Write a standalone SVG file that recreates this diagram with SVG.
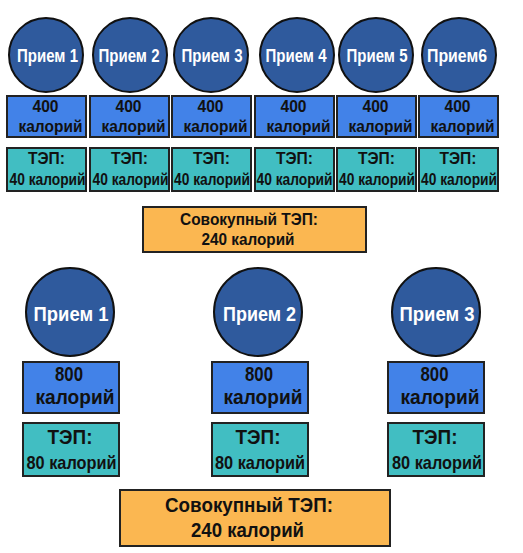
<svg xmlns="http://www.w3.org/2000/svg" width="523" height="553" viewBox="0 0 523 553">
<style>
  text { font-family: "Liberation Sans Narrow", "Liberation Sans", Arial, sans-serif; font-weight: bold; text-anchor: middle; }
  .meal { fill: #2F5A9D; stroke: #111; stroke-width: 2; }
  .kcal { fill: #4282E8; stroke: #222; stroke-width: 2; }
  .tef { fill: #41BEC2; stroke: #222; stroke-width: 2; }
  .total { fill: #FBB751; stroke: #222; stroke-width: 2; }
  .w { fill: #fff; }
  .k { fill: #111; }
  .s16 { font-size: 16px; }
  .s17 { font-size: 17px; }
  .s19 { font-size: 19px; }
  .s20 { font-size: 20px; }
  .s21 { font-size: 21px; }
</style>
<rect width="523" height="553" fill="#fff"/>
<g id="connectors"/>

<!-- Top scenario: 6 meals -->
<g id="top-meal-1"><circle class="meal" cx="46" cy="55" r="37"/><text class="w s19" x="47.5" y="62" textLength="61" lengthAdjust="spacingAndGlyphs">Прием 1</text></g>
<g id="top-meal-2"><circle class="meal" cx="130" cy="55" r="37"/><text class="w s19" x="129" y="62" textLength="61" lengthAdjust="spacingAndGlyphs">Прием 2</text></g>
<g id="top-meal-3"><circle class="meal" cx="211" cy="55" r="37"/><text class="w s19" x="212" y="62" textLength="61" lengthAdjust="spacingAndGlyphs">Прием 3</text></g>
<g id="top-meal-4"><circle class="meal" cx="297" cy="55" r="37"/><text class="w s19" x="296" y="62" textLength="61" lengthAdjust="spacingAndGlyphs">Прием 4</text></g>
<g id="top-meal-5"><circle class="meal" cx="376" cy="55" r="37"/><text class="w s19" x="377" y="62" textLength="61" lengthAdjust="spacingAndGlyphs">Прием 5</text></g>
<g id="top-meal-6"><circle class="meal" cx="459" cy="55" r="37"/><text class="w s19" x="457" y="62" textLength="60" lengthAdjust="spacingAndGlyphs">Прием6</text></g>

<g id="top-kcal-1"><rect class="kcal" x="7" y="96" width="79" height="41"/><text class="k s17" x="45.5" y="112" textLength="26" lengthAdjust="spacingAndGlyphs">400</text><text class="k s17" x="50.5" y="132" textLength="64" lengthAdjust="spacingAndGlyphs">калорий</text></g>
<g id="top-kcal-2"><rect class="kcal" x="90" y="96" width="79" height="41"/><text class="k s17" x="128.5" y="112" textLength="26" lengthAdjust="spacingAndGlyphs">400</text><text class="k s17" x="133.5" y="132" textLength="64" lengthAdjust="spacingAndGlyphs">калорий</text></g>
<g id="top-kcal-3"><rect class="kcal" x="172" y="96" width="79" height="41"/><text class="k s17" x="210.5" y="112" textLength="26" lengthAdjust="spacingAndGlyphs">400</text><text class="k s17" x="215.5" y="132" textLength="64" lengthAdjust="spacingAndGlyphs">калорий</text></g>
<g id="top-kcal-4"><rect class="kcal" x="255" y="96" width="79" height="41"/><text class="k s17" x="293.5" y="112" textLength="26" lengthAdjust="spacingAndGlyphs">400</text><text class="k s17" x="298.5" y="132" textLength="64" lengthAdjust="spacingAndGlyphs">калорий</text></g>
<g id="top-kcal-5"><rect class="kcal" x="337" y="96" width="79" height="41"/><text class="k s17" x="375.5" y="112" textLength="26" lengthAdjust="spacingAndGlyphs">400</text><text class="k s17" x="380.5" y="132" textLength="64" lengthAdjust="spacingAndGlyphs">калорий</text></g>
<g id="top-kcal-6"><rect class="kcal" x="419" y="96" width="79" height="41"/><text class="k s17" x="457.5" y="112" textLength="26" lengthAdjust="spacingAndGlyphs">400</text><text class="k s17" x="462.5" y="132" textLength="64" lengthAdjust="spacingAndGlyphs">калорий</text></g>

<g id="top-tef-1"><rect class="tef" x="7" y="148" width="79" height="43"/><text class="k s17" x="46.5" y="164" textLength="37" lengthAdjust="spacingAndGlyphs">ТЭП:</text><text class="k s16" x="47.5" y="185" textLength="76" lengthAdjust="spacingAndGlyphs">40 калорий</text></g>
<g id="top-tef-2"><rect class="tef" x="90" y="148" width="79" height="43"/><text class="k s17" x="129.5" y="164" textLength="37" lengthAdjust="spacingAndGlyphs">ТЭП:</text><text class="k s16" x="130.5" y="185" textLength="76" lengthAdjust="spacingAndGlyphs">40 калорий</text></g>
<g id="top-tef-3"><rect class="tef" x="172" y="148" width="79" height="43"/><text class="k s17" x="211.5" y="164" textLength="37" lengthAdjust="spacingAndGlyphs">ТЭП:</text><text class="k s16" x="212" y="185" textLength="76" lengthAdjust="spacingAndGlyphs">40 калорий</text></g>
<g id="top-tef-4"><rect class="tef" x="255" y="148" width="79" height="43"/><text class="k s17" x="294.5" y="164" textLength="37" lengthAdjust="spacingAndGlyphs">ТЭП:</text><text class="k s16" x="294.5" y="185" textLength="76" lengthAdjust="spacingAndGlyphs">40 калорий</text></g>
<g id="top-tef-5"><rect class="tef" x="337" y="148" width="79" height="43"/><text class="k s17" x="376.5" y="164" textLength="37" lengthAdjust="spacingAndGlyphs">ТЭП:</text><text class="k s16" x="377" y="185" textLength="76" lengthAdjust="spacingAndGlyphs">40 калорий</text></g>
<g id="top-tef-6"><rect class="tef" x="419" y="148" width="79" height="43"/><text class="k s17" x="458" y="164" textLength="37" lengthAdjust="spacingAndGlyphs">ТЭП:</text><text class="k s16" x="459" y="185" textLength="76" lengthAdjust="spacingAndGlyphs">40 калорий</text></g>

<g id="top-total"><rect class="total" x="143" y="207" width="223" height="45"/><text class="k s17" x="249" y="225" textLength="138" lengthAdjust="spacingAndGlyphs">Совокупный ТЭП:</text><text class="k s17" x="248" y="245" textLength="93" lengthAdjust="spacingAndGlyphs">240 калорий</text></g>

<!-- Bottom scenario: 3 meals -->
<g id="bottom-meal-1"><circle class="meal" cx="70" cy="312" r="44"/><text class="w s21" x="71" y="321" textLength="75" lengthAdjust="spacingAndGlyphs">Прием 1</text></g>
<g id="bottom-meal-2"><circle class="meal" cx="258" cy="312" r="44"/><text class="w s21" x="259.5" y="321" textLength="73" lengthAdjust="spacingAndGlyphs">Прием 2</text></g>
<g id="bottom-meal-3"><circle class="meal" cx="436" cy="312" r="44"/><text class="w s21" x="437" y="321" textLength="75" lengthAdjust="spacingAndGlyphs">Прием 3</text></g>

<g id="bottom-kcal-1"><rect class="kcal" x="23" y="362" width="96" height="51"/><text class="k s20" x="69" y="381" textLength="28" lengthAdjust="spacingAndGlyphs">800</text><text class="k s20" x="75" y="404" textLength="79" lengthAdjust="spacingAndGlyphs">калорий</text></g>
<g id="bottom-kcal-2"><rect class="kcal" x="212" y="362" width="96" height="51"/><text class="k s20" x="259" y="381" textLength="28" lengthAdjust="spacingAndGlyphs">800</text><text class="k s20" x="263" y="404" textLength="79" lengthAdjust="spacingAndGlyphs">калорий</text></g>
<g id="bottom-kcal-3"><rect class="kcal" x="388" y="362" width="96" height="51"/><text class="k s20" x="434.5" y="381" textLength="28" lengthAdjust="spacingAndGlyphs">800</text><text class="k s20" x="440" y="404" textLength="79" lengthAdjust="spacingAndGlyphs">калорий</text></g>

<g id="bottom-tef-1"><rect class="tef" x="23" y="423" width="96" height="53"/><text class="k s21" x="70" y="444" textLength="45" lengthAdjust="spacingAndGlyphs">ТЭП:</text><text class="k s19" x="71.5" y="469" textLength="90" lengthAdjust="spacingAndGlyphs">80 калорий</text></g>
<g id="bottom-tef-2"><rect class="tef" x="212" y="423" width="96" height="53"/><text class="k s21" x="258" y="444" textLength="45" lengthAdjust="spacingAndGlyphs">ТЭП:</text><text class="k s19" x="260" y="469" textLength="90" lengthAdjust="spacingAndGlyphs">80 калорий</text></g>
<g id="bottom-tef-3"><rect class="tef" x="388" y="423" width="96" height="53"/><text class="k s21" x="435" y="444" textLength="45" lengthAdjust="spacingAndGlyphs">ТЭП:</text><text class="k s19" x="437" y="469" textLength="90" lengthAdjust="spacingAndGlyphs">80 калорий</text></g>

<g id="bottom-total"><rect class="total" x="120" y="490" width="270" height="56"/><text class="k s21" x="249" y="512" textLength="168" lengthAdjust="spacingAndGlyphs">Совокупный ТЭП:</text><text class="k s21" x="247.5" y="537" textLength="113" lengthAdjust="spacingAndGlyphs">240 калорий</text></g>
</svg>
